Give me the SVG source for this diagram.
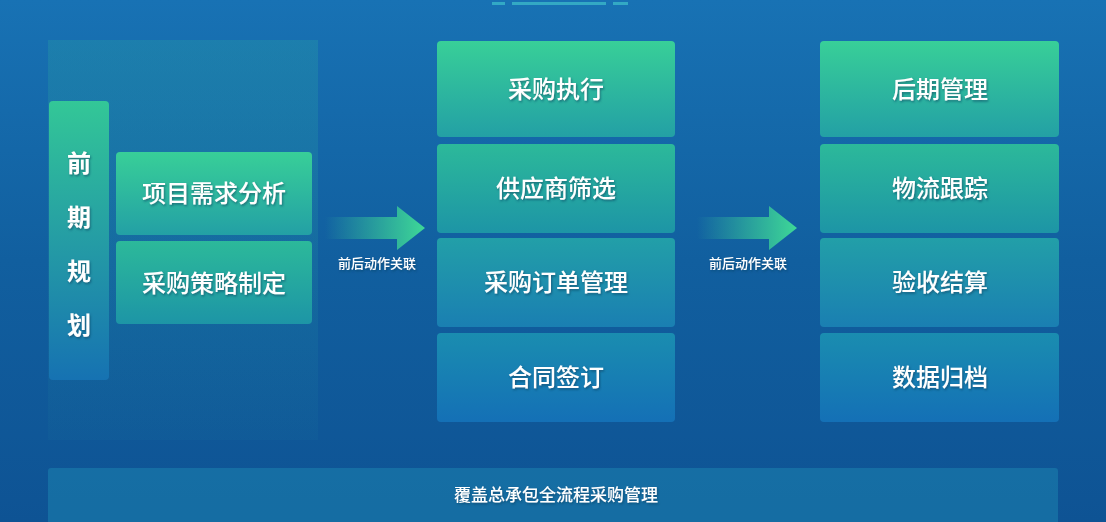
<svg xmlns="http://www.w3.org/2000/svg" width="1106" height="522" viewBox="0 0 1106 522">
<defs>
<linearGradient id="bg" x1="0" y1="0" x2="0" y2="1"><stop offset="0" stop-color="#1872b4"/><stop offset="0.5" stop-color="#115f9f"/><stop offset="1" stop-color="#0e5394"/></linearGradient>
<linearGradient id="gp" x1="0" y1="0" x2="0" y2="1"><stop offset="0" stop-color="#2aa3a3" stop-opacity="0.3"/><stop offset="1" stop-color="#2aa3a3" stop-opacity="0.05"/></linearGradient>
<linearGradient id="g1" x1="0" y1="0" x2="0" y2="1"><stop offset="0" stop-color="#38cf98"/><stop offset="1" stop-color="#23a0a5"/></linearGradient>
<linearGradient id="g2" x1="0" y1="0" x2="0" y2="1"><stop offset="0" stop-color="#2cb99a"/><stop offset="1" stop-color="#1d95a6"/></linearGradient>
<linearGradient id="g3" x1="0" y1="0" x2="0" y2="1"><stop offset="0" stop-color="#229fa8"/><stop offset="1" stop-color="#1a7fb2"/></linearGradient>
<linearGradient id="g4" x1="0" y1="0" x2="0" y2="1"><stop offset="0" stop-color="#1a8db0"/><stop offset="1" stop-color="#1470b6"/></linearGradient>
<linearGradient id="gv" x1="0" y1="0" x2="0" y2="1"><stop offset="0" stop-color="#33c797"/><stop offset="1" stop-color="#1672b2"/></linearGradient>
<linearGradient id="ga" x1="0" y1="0" x2="1" y2="0"><stop offset="0" stop-color="#3ed897" stop-opacity="0"/><stop offset="1" stop-color="#3ed897"/></linearGradient>
<filter id="ts"><feDropShadow dx="1" dy="1.5" stdDeviation="1" flood-color="#0a3a5a" flood-opacity="0.6"/></filter>
</defs>
<style>
text{font-family:"Noto Sans CJK SC","Noto Sans",sans-serif;fill:#fff;text-anchor:middle;filter:url(#ts)}
.n{font-size:24px;font-weight:500}
.v{font-size:24px;font-weight:700}
.s{font-size:13px;font-weight:500}
</style>
<rect width="1106" height="522" fill="url(#bg)"/>
<rect x="48" y="40" width="270" height="400" fill="url(#gp)"/>
<g fill="#3ab7c9" opacity="0.8"><rect x="492" y="2" width="13" height="3"/><rect x="512" y="2" width="94" height="3"/><rect x="613" y="2" width="15" height="3"/></g>
<g id="n-qqgh"><rect x="49" y="101" width="60" height="279" rx="4" fill="url(#gv)"/><text class="v" x="79" y="172">前</text><text class="v" x="79" y="226">期</text><text class="v" x="79" y="280">规</text><text class="v" x="79" y="334">划</text></g>
<g id="n-xmxq"><rect x="116" y="152" width="196" height="83" rx="4" fill="url(#g1)"/><text class="n" x="214" y="202">项目需求分析</text></g>
<g id="n-cgcl"><rect x="116" y="241" width="196" height="83" rx="4" fill="url(#g2)"/><text class="n" x="214" y="292">采购策略制定</text></g>
<g id="n-cgzx"><rect x="437" y="41" width="238" height="96" rx="4" fill="url(#g1)"/><text class="n" x="556" y="98">采购执行</text></g>
<g id="n-gys"><rect x="437" y="144" width="238" height="89" rx="4" fill="url(#g2)"/><text class="n" x="556" y="197">供应商筛选</text></g>
<g id="n-ddgl"><rect x="437" y="238" width="238" height="89" rx="4" fill="url(#g3)"/><text class="n" x="556" y="291">采购订单管理</text></g>
<g id="n-htqd"><rect x="437" y="333" width="238" height="89" rx="4" fill="url(#g4)"/><text class="n" x="556" y="386">合同签订</text></g>
<g id="n-hqgl"><rect x="820" y="41" width="239" height="96" rx="4" fill="url(#g1)"/><text class="n" x="940" y="98">后期管理</text></g>
<g id="n-wlgz"><rect x="820" y="144" width="239" height="89" rx="4" fill="url(#g2)"/><text class="n" x="940" y="197">物流跟踪</text></g>
<g id="n-ysjs"><rect x="820" y="238" width="239" height="89" rx="4" fill="url(#g3)"/><text class="n" x="940" y="291">验收结算</text></g>
<g id="n-sjgd"><rect x="820" y="333" width="239" height="89" rx="4" fill="url(#g4)"/><text class="n" x="940" y="386">数据归档</text></g>
<g id="connectors">
<path d="M325 217H397V206L425 228L397 250V239H325Z" fill="url(#ga)"/>
<text class="s" x="377" y="268">前后动作关联</text>
<path d="M697 217H769V206L797 228L769 250V239H697Z" fill="url(#ga)"/>
<text class="s" x="748" y="268">前后动作关联</text>
</g>
<g id="n-bottom"><rect x="48" y="468" width="1010" height="60" rx="3" fill="#1a7fae" opacity="0.6"/><text x="556" y="501" style="font-size:17px;font-weight:500">覆盖总承包全流程采购管理</text></g>
</svg>
